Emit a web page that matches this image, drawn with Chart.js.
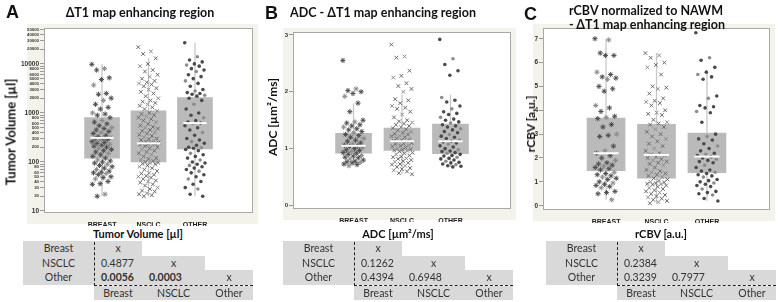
<!DOCTYPE html>
<html>
<head>
<meta charset="utf-8">
<script src="https://cdn.jsdelivr.net/npm/chart.js@4.4.1/dist/chart.umd.min.js"></script>
<style>
body{margin:0;width:778px;height:302px;position:relative;overflow:hidden;background:#fff;font-family:Lato,"Open Sans",sans-serif;color:#222}
canvas{position:absolute;top:0}
.t{position:absolute;white-space:nowrap;line-height:1}
.letter{font-family:"Liberation Sans",Arial,sans-serif;font-weight:bold;font-size:18px;color:#111}
.ttl{font-weight:bold;font-size:12.5px;transform:translate(-50%,-50%);color:#111}
.yt{font-weight:bold;font-size:13px;transform:translate(-50%,-50%) rotate(-90deg);color:#111}
.cell{position:absolute;background:#d9d9d9}
.tx{position:absolute;font-size:10.5px;color:#333;line-height:1;transform:translateY(-50%);white-space:nowrap}
</style>
</head>
<body>
<canvas id="cA" width="258" height="226" style="left:0px"></canvas>
<canvas id="cB" width="254" height="222" style="left:262px"></canvas>
<canvas id="cC" width="257" height="223" style="left:520px"></canvas>

<div class="t letter" style="left:6px;top:3px">A</div>
<div class="t ttl" style="left:140px;top:13px">ΔT1 map enhancing region</div>
<div class="t letter" style="left:265px;top:4px">B</div>
<div class="t ttl" style="left:383px;top:13px">ADC - ΔT1 map enhancing region</div>
<div class="t letter" style="left:524px;top:5px">C</div>
<div class="t ttl" style="left:646px;top:11px">rCBV normalized to NAWM</div>
<div class="t ttl" style="left:647px;top:25px">- ΔT1 map enhancing region</div>

<div class="t yt" style="left:11px;top:132px">Tumor Volume [µl]</div>
<div class="t yt" style="left:273px;top:117px;font-size:12px">ADC [µm²/ms]</div>
<div class="t yt" style="left:531px;top:124px;font-size:12px">rCBV [a.u.]</div>

<script>
// categories
const groups = ['BREAST', 'NSCLC', 'OTHER'];

// tumor volume [µl] (log axis)
const volBreast = [9800, 8000, 7500, 5200, 4800, 3700, 2500, 2400, 2000, 1800, 1500, 1300, 1200, 1000, 950, 900, 800, 700, 650, 600, 550, 500, 480, 450, 420, 400, 380, 350, 330, 320, 300, 300, 290, 280, 260, 250, 240, 230, 220, 210, 200, 190, 180, 170, 160, 150, 140, 130, 120, 110, 105, 100, 95, 90, 85, 80, 75, 70, 65, 62, 60, 58, 55, 50, 48, 45, 40, 36, 35, 22, 20];
const volNsclc = [22000, 18000, 16000, 13000, 10000, 9000, 7500, 7000, 6000, 5500, 5000, 4500, 4200, 4000, 3800, 3500, 3200, 3000, 2700, 2500, 2200, 2000, 1800, 1700, 1600, 1500, 1400, 1300, 1200, 1100, 1000, 950, 900, 850, 800, 750, 700, 650, 600, 550, 520, 500, 480, 450, 430, 400, 380, 360, 340, 320, 300, 290, 280, 270, 260, 250, 245, 240, 235, 230, 225, 220, 210, 200, 190, 180, 170, 160, 150, 140, 130, 120, 115, 110, 105, 100, 97, 95, 92, 90, 85, 80, 75, 70, 65, 60, 58, 55, 52, 50, 48, 45, 42, 40, 38, 35, 33, 30, 28, 26, 25, 23, 22, 21, 20];
const volOther = [27000, 14000, 12000, 11000, 10000, 9500, 9000, 8000, 7500, 7000, 6000, 5500, 5000, 4500, 4000, 3500, 3000, 2800, 2600, 2500, 2400, 2300, 2200, 2000, 1800, 1500, 1200, 1000, 900, 800, 700, 650, 620, 600, 550, 500, 450, 400, 350, 300, 280, 260, 240, 220, 200, 195, 190, 180, 170, 150, 140, 130, 120, 110, 100, 95, 90, 85, 80, 75, 70, 65, 60, 55, 50, 45, 40, 35, 30, 28, 22, 20];
const volQ1 = [120, 100, 185];
const volMed = [310, 240, 620];
const volQ3 = [800, 1100, 2050];
const volLo = [20, 20, 20];
const volHi = [10000, 13000, 27000];
const volTicks = [10, 20, 30, 40, 50, 60, 70, 80, 90, 100, 200, 300, 400, 500, 600, 700, 800, 900, 1000, 2000, 3000, 4000, 5000, 6000, 7000, 8000, 9000, 10000, 20000, 30000, 40000, 50000];

// ADC [µm²/ms]
const adcBreast = [2.55, 2.05, 2.02, 2.0, 1.97, 1.92, 1.8, 1.65, 1.5, 1.47, 1.45, 1.42, 1.4, 1.38, 1.35, 1.33, 1.3, 1.28, 1.25, 1.23, 1.2, 1.18, 1.15, 1.13, 1.1, 1.08, 1.06, 1.05, 1.04, 1.02, 1.0, 0.98, 0.97, 0.95, 0.93, 0.92, 0.9, 0.88, 0.87, 0.85, 0.84, 0.82, 0.8, 0.78, 0.77, 0.76, 0.75, 0.73, 0.72, 0.7];
const adcNsclc = [2.83, 2.62, 2.6, 2.37, 2.28, 2.25, 2.15, 2.1, 2.05, 2.0, 1.87, 1.85, 1.8, 1.75, 1.72, 1.7, 1.65, 1.6, 1.55, 1.5, 1.48, 1.46, 1.44, 1.42, 1.4, 1.38, 1.36, 1.34, 1.32, 1.3, 1.28, 1.26, 1.25, 1.23, 1.22, 1.2, 1.18, 1.17, 1.15, 1.14, 1.13, 1.12, 1.1, 1.09, 1.08, 1.06, 1.05, 1.04, 1.02, 1.0, 0.99, 0.98, 0.97, 0.96, 0.95, 0.93, 0.92, 0.9, 0.88, 0.86, 0.85, 0.83, 0.82, 0.8, 0.78, 0.77, 0.75, 0.73, 0.72, 0.7, 0.68, 0.66, 0.64, 0.62, 0.6, 0.57, 0.55];
const adcOther = [2.92, 2.58, 2.48, 2.37, 2.29, 1.9, 1.85, 1.82, 1.75, 1.7, 1.65, 1.62, 1.6, 1.55, 1.52, 1.5, 1.47, 1.45, 1.42, 1.4, 1.38, 1.35, 1.33, 1.3, 1.28, 1.25, 1.22, 1.2, 1.18, 1.15, 1.13, 1.12, 1.1, 1.08, 1.05, 1.03, 1.0, 0.98, 0.96, 0.95, 0.93, 0.92, 0.9, 0.88, 0.87, 0.85, 0.83, 0.82, 0.8, 0.78, 0.76, 0.75, 0.73, 0.72, 0.7, 0.69, 0.68];
const adcQ1 = [0.92, 0.97, 0.91];
const adcMed = [1.05, 1.13, 1.13];
const adcQ3 = [1.27, 1.36, 1.43];
const adcLo = [0.7, 0.55, 0.68];
const adcHi = [1.8, 1.95, 1.95];
const adcTicks = [0, 1, 2, 3];

// rCBV [a.u.]
const rcbvBreast = [7.0, 6.95, 6.4, 6.3, 6.3, 5.6, 5.5, 5.4, 5.35, 5.3, 5.0, 4.9, 4.8, 4.2, 4.1, 3.95, 3.75, 3.7, 3.65, 3.4, 3.3, 3.0, 2.95, 2.9, 2.5, 2.3, 2.2, 2.1, 2.0, 1.9, 1.8, 1.75, 1.7, 1.65, 1.6, 1.55, 1.5, 1.4, 1.35, 1.3, 1.25, 1.2, 1.15, 1.1, 1.0, 0.95, 0.9, 0.85, 0.8, 0.75, 0.6, 0.55, 0.5, 0.25];
const rcbvNsclc = [6.4, 6.3, 6.2, 6.0, 5.9, 5.8, 5.5, 5.0, 4.95, 4.9, 4.7, 4.5, 4.4, 4.35, 4.3, 4.2, 4.0, 3.9, 3.85, 3.8, 3.6, 3.5, 3.45, 3.4, 3.3, 3.2, 3.1, 3.0, 2.9, 2.8, 2.7, 2.6, 2.5, 2.4, 2.3, 2.2, 2.15, 2.1, 2.05, 2.0, 1.95, 1.9, 1.85, 1.8, 1.75, 1.7, 1.6, 1.5, 1.45, 1.4, 1.35, 1.3, 1.25, 1.2, 1.15, 1.1, 1.05, 1.0, 0.98, 0.95, 0.92, 0.9, 0.88, 0.85, 0.8, 0.75, 0.7, 0.65, 0.6, 0.55, 0.5, 0.45, 0.4, 0.35, 0.3, 0.25, 0.2, 0.15, 0.1];
const rcbvOther = [7.25, 6.2, 6.1, 5.8, 5.6, 5.5, 5.4, 5.3, 4.6, 4.5, 4.2, 4.15, 4.1, 3.95, 3.9, 3.5, 3.0, 2.9, 2.8, 2.75, 2.6, 2.5, 2.4, 2.3, 2.2, 2.15, 2.1, 2.05, 2.0, 1.95, 1.9, 1.85, 1.8, 1.7, 1.6, 1.5, 1.45, 1.4, 1.35, 1.3, 1.25, 1.2, 1.1, 1.05, 1.0, 0.95, 0.9, 0.85, 0.8, 0.7, 0.6, 0.55, 0.5, 0.45, 0.3, 0.2];
const rcbvQ1 = [1.47, 1.15, 1.38];
const rcbvMed = [2.2, 2.13, 2.06];
const rcbvQ3 = [3.67, 3.41, 3.04];
const rcbvLo = [0.25, 0.1, 0.2];
const rcbvHi = [7.0, 6.4, 5.6];
const rcbvTicks = [0, 1, 2, 3, 4, 5, 6, 7];

// p-value tables
const rowNames = ['Breast', 'NSCLC', 'Other'];
const volP = [['x'], ['0.4877', 'x'], ['0.0056', '0.0003', 'x']];
const adcP = [['x'], ['0.1262', 'x'], ['0.4394', '0.6948', 'x']];
const rcbvP = [['x'], ['0.2384', 'x'], ['0.3239', '0.7977', 'x']];

Chart.defaults.font.family = '"Liberation Sans", Arial, sans-serif';

var markStyle = ['star', 'crossRot', 'circle'];
var markColor = ['#4f4f4f', '#6a6a6a', '#4a4a4a'];

// spread points sideways around the category centre
function jit(i) {
    return (((i * 0.618034) % 1) - 0.5) * 0.44;
}

var framePlugin = {
    id: 'frame',
    beforeDraw: function(chart) {
        var c = chart.ctx, a = chart.chartArea;
        var off = chart.options.plugins.frame.left;
        c.save();
        c.fillStyle = '#f3f3ec';
        c.fillRect(a.left - off, a.top - 4, a.right - a.left + off + 5, a.bottom - a.top + 15);
        c.fillStyle = '#ffffff';
        c.fillRect(a.left, a.top, a.right - a.left, a.bottom - a.top);
        c.restore();
    },
    afterDraw: function(chart) {
        var c = chart.ctx, a = chart.chartArea;
        c.save();
        c.strokeStyle = '#a8a8a8';
        c.lineWidth = 1;
        c.strokeRect(Math.round(a.left) + 0.5, Math.round(a.top) + 0.5, Math.round(a.right - a.left) - 1, Math.round(a.bottom - a.top) - 1);
        c.restore();
    }
};

function makePanel(id, p) {
    var ds = [];
    var vals = [p.b, p.n, p.o];
    for (var g = 0; g < 3; g++) {
        ds.push({
            type: 'scatter',
            data: vals[g].map(function(v, i) { return {x: g + 1 + jit(i), y: v}; }),
            pointStyle: markStyle[g],
            pointRadius: g == 2 ? 1.8 : 2.6,
            borderWidth: g == 2 ? 0 : 1,
            borderColor: vals[g].map(function(v, i) { return i % 4 == 1 ? '#8c8c8c' : markColor[g]; }),
            backgroundColor: vals[g].map(function(v, i) { return i % 4 == 1 ? '#8c8c8c' : markColor[g]; }),
            order: 2
        });
        // median
        ds.push({
            type: 'line',
            data: [{x: g + 0.75, y: p.med[g]}, {x: g + 1.25, y: p.med[g]}],
            borderColor: '#ffffff',
            borderWidth: 2,
            pointRadius: 0,
            order: 1
        });
        // whiskers
        ds.push({
            type: 'line',
            data: [{x: g + 1, y: p.lo[g]}, {x: g + 1, y: p.q1[g]}, {x: g + 1, y: null}, {x: g + 1, y: p.q3[g]}, {x: g + 1, y: p.hi[g]}],
            borderColor: '#c8c8c8',
            borderWidth: 1.3,
            pointRadius: 0,
            spanGaps: false,
            order: 5
        });
    }
    ds.push({
        type: 'bar',
        data: [0, 1, 2].map(function(g) { return {x: g + 1, y: [p.q1[g], p.q3[g]]}; }),
        backgroundColor: '#bababa',
        barThickness: p.bar,
        order: 4
    });

    return new Chart(document.getElementById(id), {
        type: 'scatter',
        data: {datasets: ds},
        plugins: [framePlugin],
        options: {
            responsive: false,
            devicePixelRatio: 1,
            animation: false,
            events: [],
            layout: {padding: {left: 0, right: p.right, top: p.top, bottom: 0}},
            plugins: {legend: {display: false}, tooltip: {enabled: false}, frame: {left: p.frameLeft}},
            scales: {
                x: {
                    type: 'linear',
                    min: 0.5,
                    max: 3.5,
                    afterBuildTicks: function(s) { s.ticks = [1, 2, 3].map(function(v) { return {value: v}; }); },
                    afterFit: function(s) { s.height = 13; },
                    grid: {display: false},
                    border: {display: false},
                    ticks: {
                        autoSkip: false,
                        maxRotation: 0,
                        padding: 0,
                        color: '#222',
                        font: {size: 7, weight: 'bold'},
                        callback: function(v) { return groups[v - 1]; }
                    }
                },
                y: {
                    type: p.log ? 'logarithmic' : 'linear',
                    min: p.min,
                    max: p.max,
                    afterBuildTicks: function(s) { s.ticks = p.ticks.map(function(v) { return {value: v}; }); },
                    afterFit: function(s) { s.width = p.yw; },
                    grid: {drawOnChartArea: false, tickLength: 4, color: '#999'},
                    border: {display: false},
                    ticks: {
                        autoSkip: false,
                        padding: 1,
                        color: '#333',
                        font: p.font,
                        callback: p.label
                    }
                }
            }
        }
    });
}

makePanel('cA', {
    b: volBreast, n: volNsclc, o: volOther,
    q1: volQ1, med: volMed, q3: volQ3, lo: volLo, hi: volHi,
    log: true, min: 9.1, max: 54000, ticks: volTicks,
    yw: 44, right: 5, top: 28, bar: 35, frameLeft: 17,
    font: function(ctx) {
        var v = ctx.tick ? ctx.tick.value : 10;
        var major = Math.abs(Math.log10(v) % 1) < 1e-6;
        return {size: major ? 6.5 : 4.3, weight: 'bold'};
    },
    label: function(v) {
        var m = v / Math.pow(10, Math.floor(Math.log10(v) + 1e-9));
        return (Math.round(m) == 7 || Math.round(m) == 9) ? '' : String(v);
    }
});

makePanel('cB', {
    b: adcBreast, n: adcNsclc, o: adcOther,
    q1: adcQ1, med: adcMed, q3: adcQ3, lo: adcLo, hi: adcHi,
    log: false, min: -0.06, max: 3.05, ticks: adcTicks,
    yw: 31, right: 5, top: 32, bar: 36, frameLeft: 10,
    font: {size: 6, weight: 'bold'},
    label: function(v) { return String(v); }
});

makePanel('cC', {
    b: rcbvBreast, n: rcbvNsclc, o: rcbvOther,
    q1: rcbvQ1, med: rcbvMed, q3: rcbvQ3, lo: rcbvLo, hi: rcbvHi,
    log: false, min: -0.18, max: 7.45, ticks: rcbvTicks,
    yw: 23, right: 7, top: 28, bar: 38, frameLeft: 10,
    font: {size: 6.5, weight: 'bold'},
    label: function(v) { return String(v); }
});

// p-value tables under each panel
var colW = [71, 48, 63, 48];
function makeTable(x0, title, pv) {
    var body = document.body;
    function box(x, y, w, h) {
        var d = document.createElement('div');
        d.className = 'cell';
        d.style.left = x + 'px'; d.style.top = y + 'px';
        d.style.width = w + 'px'; d.style.height = h + 'px';
        body.appendChild(d);
    }
    function text(s, x, y, center, bold) {
        var d = document.createElement('div');
        d.className = 'tx';
        d.textContent = s;
        d.style.top = y + 'px';
        d.style.left = x + 'px';
        if (center) d.style.transform = 'translate(-50%,-50%)';
        if (bold) d.style.fontWeight = 'bold';
        body.appendChild(d);
        return d;
    }
    var top = 241, rh = 14.5;
    var cx = [x0 + colW[0], x0 + colW[0] + colW[1], x0 + colW[0] + colW[1] + colW[2], x0 + colW[0] + colW[1] + colW[2] + colW[3]];
    // label block and triangle
    box(x0, top, colW[0], rh * 3);
    for (var r = 0; r < 3; r++) {
        box(cx[0], top + rh * r, cx[r + 1] - cx[0], rh);
    }
    box(cx[0], top + rh * 3 + 1, cx[3] - cx[0], rh);
    var tt = text(title, x0 + 115, 233, true, true);
    tt.style.fontSize = '11px';
    tt.style.color = '#111';
    for (var r = 0; r < 3; r++) {
        var y = top + rh * r + rh / 2;
        text(rowNames[r], x0 + colW[0] / 2, y, true, false);
        for (var c = 0; c <= r; c++) {
            var s = pv[r][c];
            var left = cx[c];
            var right = cx[c + 1];
            if (s == 'x') text(s, (left + right) / 2, y, true, false);
            else text(s, left + 7, y, false, parseFloat(s) < 0.05);
        }
    }
    for (var c = 0; c < 3; c++) {
        text(rowNames[c], (cx[c] + cx[c + 1]) / 2, top + rh * 3 + 1 + rh / 2, true, false);
    }
    // dashed separators
    var v = document.createElement('div');
    v.style.cssText = 'position:absolute;left:' + cx[0] + 'px;top:' + (top + 1) + 'px;height:' + (rh * 3) + 'px;border-left:1px dashed #222';
    body.appendChild(v);
    var h = document.createElement('div');
    h.style.cssText = 'position:absolute;left:' + cx[0] + 'px;top:' + (top + rh * 3) + 'px;width:' + (cx[3] - cx[0]) + 'px;border-top:1px dashed #222';
    body.appendChild(h);
}
makeTable(23, 'Tumor Volume [µl]', volP);
makeTable(283, 'ADC [µm²/ms]', adcP);
makeTable(546, 'rCBV [a.u.]', rcbvP);
</script>
</body>
</html>
